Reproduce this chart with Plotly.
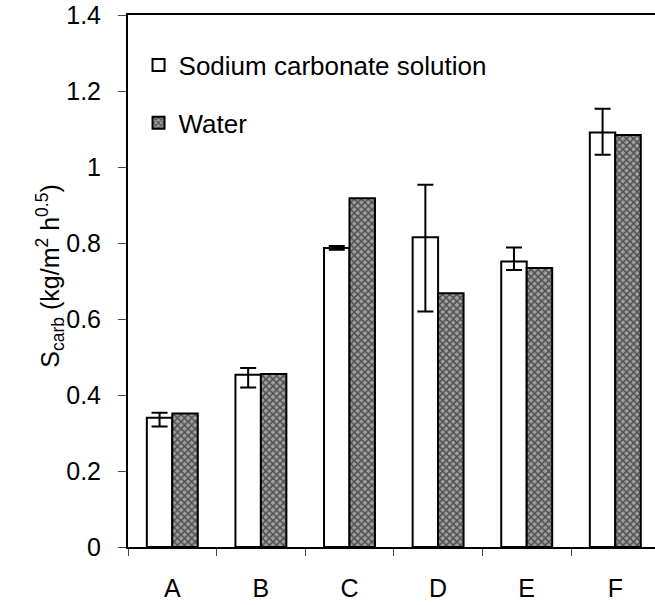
import plotly.graph_objects as go

# Sorptivity of carbonated specimens, two wetting liquids
categories = ["A", "B", "C", "D", "E", "F"]
sodium_carbonate = [0.340, 0.453, 0.787, 0.815, 0.751, 1.091]
sodium_err_plus = [0.013, 0.018, 0.005, 0.138, 0.037, 0.062]
sodium_err_minus = [0.023, 0.033, 0.005, 0.195, 0.022, 0.059]
water = [0.351, 0.455, 0.918, 0.668, 0.734, 1.084]
y_ticks = [0, 0.2, 0.4, 0.6, 0.8, 1.0, 1.2, 1.4]

FONT = "Liberation Sans, Arial, sans-serif"

fig = go.Figure()
fig.add_trace(go.Bar(
    name="Sodium carbonate solution",
    x=categories, y=sodium_carbonate,
    legendgroup="na", legendrank=1,
    marker=dict(color="white", line=dict(color="black", width=2)),
    error_y=dict(type="data", symmetric=False,
                 array=sodium_err_plus, arrayminus=sodium_err_minus,
                 color="black", thickness=2, width=8),
))
fig.add_trace(go.Bar(
    name="Water",
    x=categories, y=water,
    legendgroup="w", legendrank=2,
    marker=dict(color="#6e6e6e", line=dict(color="black", width=2),
                pattern=dict(shape="x", fgcolor="black", bgcolor="#a0a0a0",
                             size=5, solidity=0.5)),
))

fig.add_annotation(
    text="S<sub>carb</sub>\u00a0(kg/m<sup>2</sup> h<sup>0.5</sup>)",
    xref="paper", yref="paper", x=-0.186, y=0.51,
    textangle=-90, showarrow=False,
    font=dict(family=FONT, size=25, color="black"),
)

fig.update_layout(
    width=655, height=605,
    margin=dict(l=128, r=0, t=15, b=58),
    paper_bgcolor="white", plot_bgcolor="white",
    barmode="group", bargap=0.425, bargroupgap=0,
    font=dict(family=FONT, size=25, color="black"),
    legend=dict(x=0.02, y=0.95, xanchor="left", yanchor="top",
                bgcolor="rgba(0,0,0,0)", tracegroupgap=21,
                traceorder="grouped",
                font=dict(family=FONT, size=26, color="black")),
    xaxis=dict(type="category", range=[-0.5, 5.448],
               showline=True, linecolor="black", linewidth=2, mirror=True,
               ticks="outside", tickson="boundaries", ticklen=7,
               tickcolor="#444", tickwidth=1, ticklabelstandoff=18,
               showgrid=False, zeroline=False,
               tickfont=dict(family=FONT, size=25, color="black")),
    yaxis=dict(range=[0, 1.4], tickvals=y_ticks,
               showline=True, linecolor="black", linewidth=2,
               ticks="outside", ticklen=8, tickcolor="#444", tickwidth=1,
               ticklabelstandoff=12,
               showgrid=False, zeroline=False,
               tickfont=dict(family=FONT, size=25, color="black")),
)

fig.write_html("out.html")
